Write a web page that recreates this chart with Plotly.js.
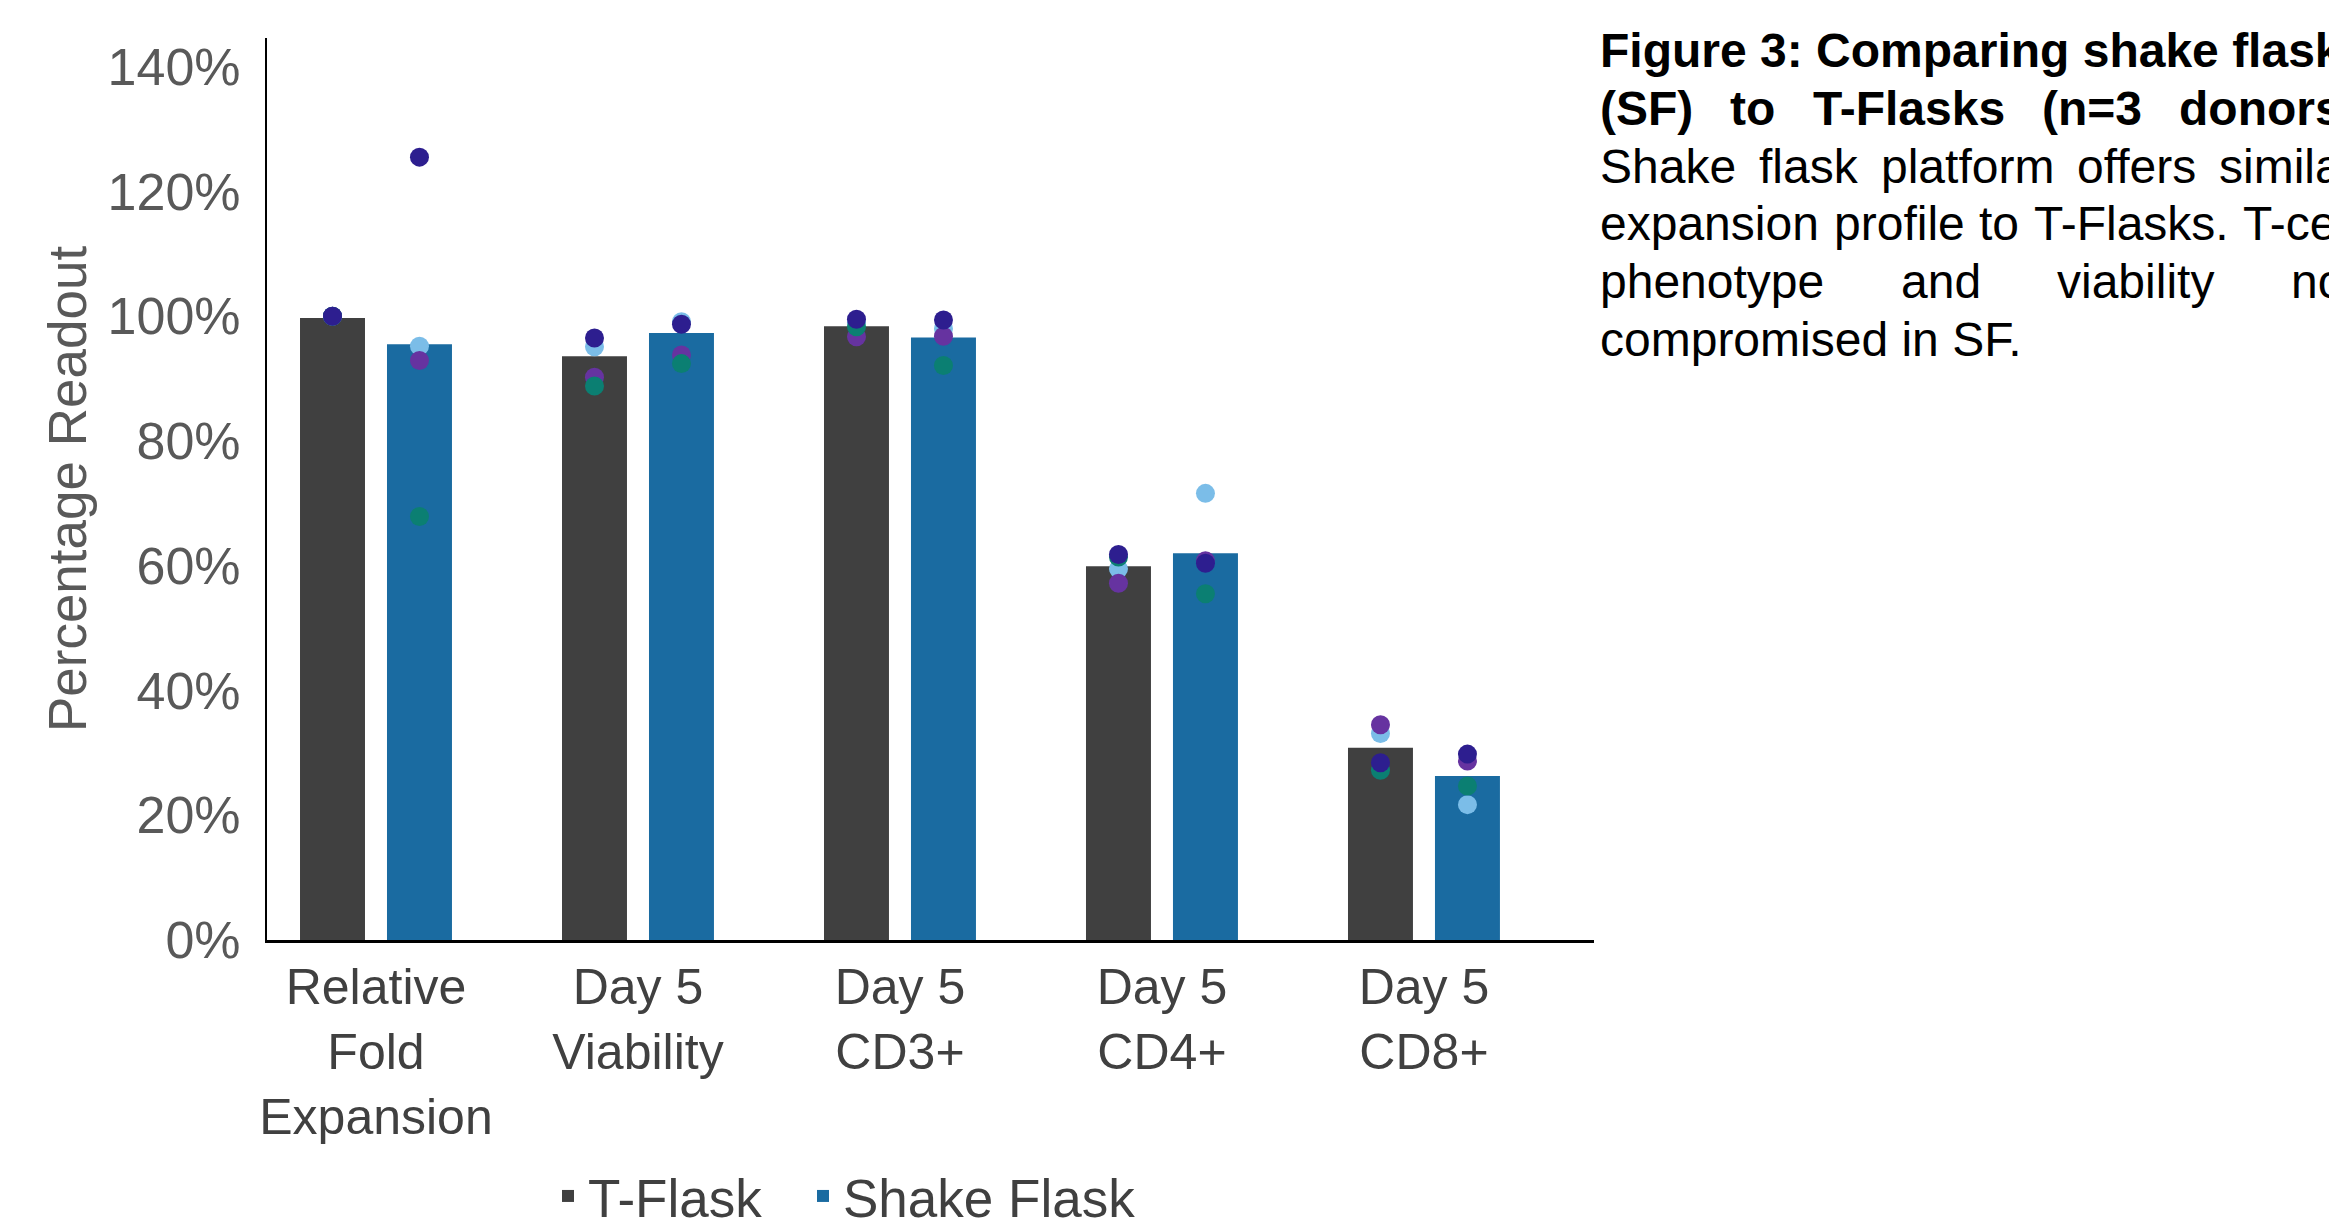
<!DOCTYPE html>
<html>
<head>
<meta charset="utf-8">
<script src="https://cdn.plot.ly/plotly-3.0.1.min.js"></script>
<style>html,body{margin:0;padding:0;background:#fff;overflow:hidden}</style>
</head>
<body>
<div id="chart" style="width:2329px;height:1222px"></div>
<script>
// ---------------- DATA ----------------
const categories = [
  'Relative<br>Fold<br>Expansion',
  'Day 5<br>Viability',
  'Day 5<br>CD3+',
  'Day 5<br>CD4+',
  'Day 5<br>CD8+'
];
const seriesNames = ['T-Flask', 'Shake Flask'];
const tFlaskMean     = [99.7, 93.6, 98.4, 59.9, 30.8];
const shakeFlaskMean = [95.5, 97.3, 96.6, 62.0, 26.3];

// individual donor read-outs (T-Flask, Shake Flask) per category
const donorLightBlueT  = [100, 95.1, 99.0, 59.5, 33.1];
const donorLightBlueSF = [95.2, 99.1, 98.0, 71.6, 21.7];
const donorPurpleT     = [100, 90.2, 96.7, 57.2, 34.5];
const donorPurpleSF    = [92.9, 93.8, 96.8, 60.8, 28.7];
const donorTealT       = [100, 88.8, 98.3, 61.4, 27.2];
const donorTealSF      = [67.9, 92.4, 92.1, 55.5, 24.7];
const donorNavyT       = [100, 96.5, 99.5, 61.8, 28.4];
const donorNavySF      = [125.5, 98.7, 99.4, 60.4, 29.8];

const yTickVals = [0, 20, 40, 60, 80, 100, 120, 140];
const yTickText = ['0%', '20%', '40%', '60%', '80%', '100%', '120%', '140%'];

const captionLines = [
  'Figure 3: Comparing shake flask',
  '(SF) to T-Flasks (n=3 donors)',
  'Shake flask platform offers similar',
  'expansion profile to T-Flasks. T-cell',
  'phenotype and viability not',
  'compromised in SF.'
];
const captionBold = [true, true, false, false, false, false];
const captionJustify = [false, true, true, true, true, false];

// ---------------- STYLE / GEOMETRY ----------------
const W = 2329, H = 1222;
const PL = 267, PR = 1594, PT = 38, PB = 940;
const px2x = p => (p - PL) / (PR - PL);
const px2y = p => (PB - p) / (PB - PT);
const FONT = 'Liberation Sans, Arial, sans-serif';
const barColors = ['#404040', '#1a6ba1'];
const donorColors = ['#7bbde8', '#6633a0', '#0b7f72', '#2d1e8f'];
const bargap = 0.336, bargroupgap = 0.253;
const slot = (1 - bargap) / 2;
const off = slot / 2;

const idx = categories.map((_, i) => i);

const traces = [
  {type: 'bar', name: seriesNames[0], x: idx, y: tFlaskMean, legendwidth: 210,
   marker: {color: barColors[0], line: {width: 0}}, hoverinfo: 'none'},
  {type: 'bar', name: seriesNames[1], x: idx, y: shakeFlaskMean,
   marker: {color: barColors[1], line: {width: 0}}, hoverinfo: 'none'}
];

const donorSets = [
  [donorLightBlueT, donorLightBlueSF],
  [donorPurpleT, donorPurpleSF],
  [donorTealT, donorTealSF],
  [donorNavyT, donorNavySF]
];
donorSets.forEach((d, k) => {
  const xs = [], ys = [];
  idx.forEach(i => {
    xs.push(i - off); ys.push(d[0][i]);
    xs.push(i + off); ys.push(d[1][i]);
  });
  traces.push({type: 'scatter', mode: 'markers', x: xs, y: ys, showlegend: false,
    marker: {size: 19, color: donorColors[k], line: {width: 0}}, hoverinfo: 'none', cliponaxis: false});
});

// ---------------- CAPTION (justified) ----------------
const cv = document.createElement('canvas').getContext('2d');
const capSize = 48;
const capLeft = 1599, capRight = 2357;
const capY0 = 51, capStep = 57.6;
const annotations = [];
captionLines.forEach((line, li) => {
  const bold = captionBold[li];
  const yy = px2y(capY0 + capStep * li);
  const font = {family: FONT, size: capSize, color: '#000000'};
  const txt = t => bold ? '<b>' + t + '</b>' : t;
  if (!captionJustify[li]) {
    annotations.push({xref: 'paper', yref: 'paper', x: px2x(capLeft), y: yy, xanchor: 'left', yanchor: 'middle',
      text: txt(line), showarrow: false, font: font, borderpad: 0});
    return;
  }
  cv.font = (bold ? 'bold ' : '') + capSize + 'px "Liberation Sans", Arial, sans-serif';
  const words = line.split(' ');
  const widths = words.map(w => cv.measureText(w).width);
  const total = widths.reduce((a, b) => a + b, 0);
  const gap = (capRight - capLeft - total) / (words.length - 1);
  let xpos = capLeft;
  words.forEach((w, wi) => {
    annotations.push({xref: 'paper', yref: 'paper', x: px2x(xpos), y: yy, xanchor: 'left', yanchor: 'middle',
      text: txt(w), showarrow: false, font: font, borderpad: 0});
    xpos += widths[wi] + gap;
  });
});

const layout = {
  width: W, height: H,
  margin: {l: PL, r: W - PR, t: PT, b: H - PB, pad: 0, autoexpand: false},
  paper_bgcolor: '#ffffff', plot_bgcolor: '#ffffff',
  barmode: 'group', bargap: bargap, bargroupgap: bargroupgap,
  showlegend: true,
  font: {family: FONT, color: '#404040'},
  xaxis: {
    type: 'linear', range: [-0.416, 4.649], tickmode: 'array', tickvals: idx, ticktext: categories,
    showgrid: false, zeroline: false, showline: true, linecolor: '#000000', linewidth: 3,
    ticks: '', ticklabelstandoff: 1, automargin: false,
    tickfont: {family: FONT, size: 50, color: '#404040'}, fixedrange: true
  },
  yaxis: {
    range: [0, 144.6], tickmode: 'array', tickvals: yTickVals, ticktext: yTickText,
    showgrid: false, zeroline: false, showline: true, linecolor: '#000000', linewidth: 2,
    ticks: '', ticklabelstandoff: 14, automargin: false,
    tickfont: {family: FONT, size: 52, color: '#595959'},
    title: {text: 'Percentage Readout', font: {family: FONT, size: 53, color: '#595959'}, standoff: 4},
    fixedrange: true
  },
  legend: {
    orientation: 'h', x: px2x(548), xanchor: 'left', y: px2y(1196), yanchor: 'middle',
    font: {family: FONT, size: 53, color: '#404040'},
    bgcolor: 'rgba(0,0,0,0)', borderwidth: 0
  },
  annotations: annotations
};

Plotly.newPlot('chart', traces, layout, {displayModeBar: false, staticPlot: true});
</script>
</body>
</html>
